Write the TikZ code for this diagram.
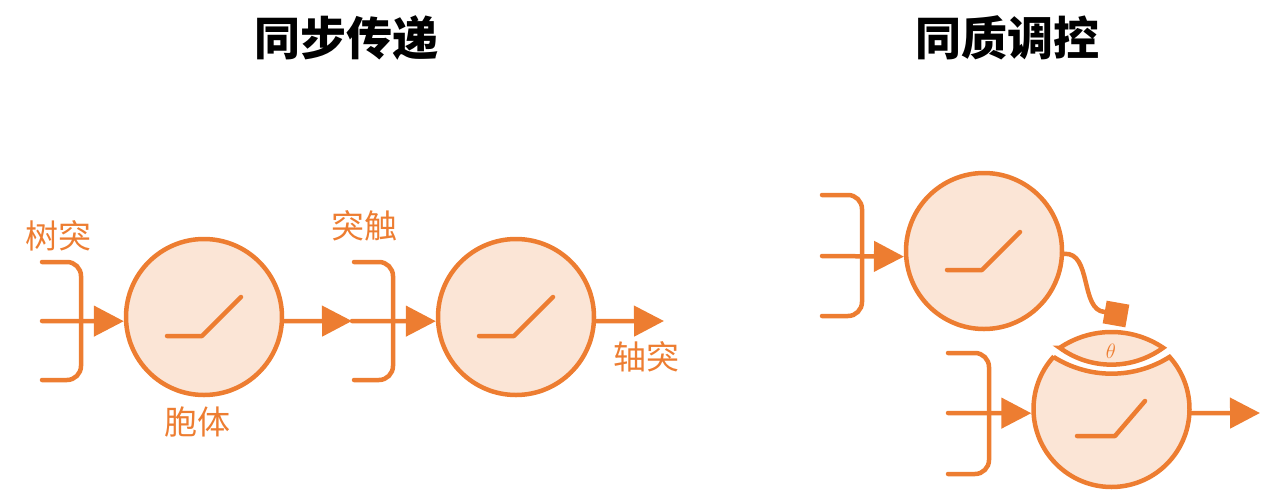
\documentclass[tikz,border=0pt]{standalone}
\usepackage{fontspec}
\newfontfamily\cjk{Noto Sans CJK SC}
\usetikzlibrary{arrows.meta}
\definecolor{org}{HTML}{ED7D31}
\definecolor{lorg}{HTML}{FBE5D6}
\begin{document}
\begin{tikzpicture}[x=1pt,y=-1pt,
  soma/.style={circle, draw=org, fill=lorg, line width=4.5pt, minimum size=156pt, inner sep=0pt},
  ghost/.style={circle, minimum size=160.5pt, inner sep=0pt, outer sep=0pt},
  link/.style={draw=org, line width=4.5pt, line cap=round, -{Triangle[length=30pt,width=30pt]}},
  brk/.style={draw=org, line width=4.5pt, line cap=round, rounded corners=14pt},
  sw/.style={draw=org, line width=4.5pt, line cap=round, line join=round},
  shell/.style={draw=org, fill=lorg, line width=4.5pt},
  lbl/.style={text=org, font=\cjk\fontsize{33}{38}\selectfont, inner sep=0pt},
  ttl/.style={font=\cjk\bfseries\fontsize{46}{52}\selectfont, inner sep=0pt}]
\useasboundingbox (0,0) rectangle (1264,491);

% titles
\node[ttl] (t1) at (346,38) {同步传递};
\node[ttl] (t2) at (1007,38) {同质调控};

% ---------- left: synchronous transmission ----------
\draw[brk] (42,262) -- (81,262) -- (81,380) -- (42,380);
\draw[brk] (354,262) -- (393,262) -- (393,380) -- (354,380);
\node[soma] (c1) at (204,317) {};
\node[soma] (c2) at (516,317) {};
\draw[sw] ([shift={(-37,19)}]c1.center) -- ++(35,0) -- ++(39,-39);
\draw[sw] ([shift={(-37,19)}]c2.center) -- ++(35,0) -- ++(39,-39);
\coordinate (in1) at (42,321);
\coordinate (mid) at (352,321);
\coordinate (out1) at (664,321);
\draw[link] (in1) -- (c1.183);
\draw[link] (c1.357) -- (mid);
\draw[link] (mid) -- (c2.183);
\draw[link] (c2.357) -- (out1);
\node[lbl] (l1) at (58,236) {树突};
\node[lbl] (l2) at (197,422) {胞体};
\node[lbl] (l3) at (364,226) {突触};
\node[lbl] (l4) at (646,357) {轴突};

% ---------- right: homogeneous modulation ----------
\draw[brk] (822,195) -- (862,195) -- (862,316) -- (822,316);
\draw[brk] (948,353) -- (989,353) -- (989,474) -- (948,474);
\node[soma] (c3) at (984,251) {};
\draw[sw] ([shift={(-37,19)}]c3.center) -- ++(35,0) -- ++(38,-38);

\node[ghost] (c4) at (1111.5,409) {};
\draw[shell] ([shift={(222.4:78)}]c4.center)
  arc[start angle=222.4, end angle=-41.9, radius=78]
  arc[start angle=57.75, end angle=122.25, radius=108.7] -- cycle;
\draw[sw] ([shift={(-34.5,27)}]c4.center) -- ++(38,0) -- ++(30,-35);

\coordinate (lc) at (1111.5,424.5);
\draw[shell] ([shift={(-123.95:92.5)}]lc)
  arc[start angle=-123.95, end angle=-56.05, radius=92.5]
  arc[start angle=53.86, end angle=126.14, radius=87.7] -- cycle;
\node[text=org, font=\fontsize{20}{24}\selectfont, inner sep=0pt] (th) at (1111,351) {$\theta$};

\node[fill=org, minimum size=23pt, inner sep=0pt, rotate=-10] (sq) at (1116,314) {};
\draw[draw=org, line width=4.5pt, line cap=round] (c3.-2) .. controls (1092,252) and (1080,310) .. (sq.west);

\coordinate (in3) at (822,256);
\coordinate (in4) at (948,413);
\coordinate (out4) at (1260,413);
\draw[link] (in3) -- (c3.184);
\draw[link] (in4) -- (c4.183);
\draw[link] (c4.357) -- (out4);
\end{tikzpicture}
\end{document}
